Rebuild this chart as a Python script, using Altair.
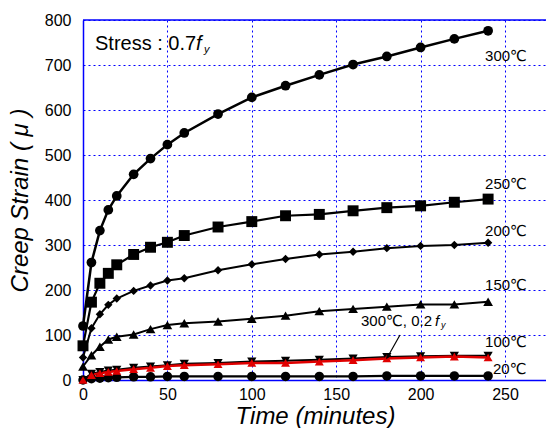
import altair as alt
import pandas as pd

# ---- data ----
times = [0, 5, 10, 15, 20, 30, 40, 50, 60, 80, 100, 120, 140, 160, 180, 200, 220, 240]

strain_300 = [120, 261, 332, 378, 409, 457, 492, 523, 549, 591, 628, 654, 678, 701, 719, 739, 758, 776]
strain_250 = [76, 173, 215, 237, 256, 279, 295, 306, 321, 340, 352, 365, 368, 376, 383, 387, 395, 402]
strain_200 = [50, 115, 146, 167, 181, 198, 210, 221, 226, 244, 257, 269, 279, 285, 293, 298, 300, 305]
strain_150 = [30, 55, 74, 90, 96, 101, 113, 122, 126, 130, 136, 143, 153, 158, 163, 168, 168, 174]
strain_20 = [0, 3, 4, 5, 6, 7, 7, 8, 8, 8, 8, 8, 8, 8, 9, 9, 9, 9]
strain_100 = [0, 14, 18, 21, 23, 27, 30, 33, 36, 38, 41, 43, 45, 48, 51, 53, 54, 54]
strain_300_02 = [0, 11, 15, 18, 20, 24, 27, 31, 33, 35, 38, 38, 41, 44, 48, 50, 52, 50]

series_names = ["300℃", "250℃", "200℃", "150℃", "20℃", "100℃", "300℃, 0.2fy"]
series_values = [strain_300, strain_250, strain_200, strain_150, strain_20, strain_100, strain_300_02]
series_colors = ["#000000", "#000000", "#000000", "#000000", "#000000", "#000000", "#E00000"]
series_shapes = ["circle", "square", "diamond", "triangle-up", "circle", "triangle-down", "triangle-up"]
series_sizes = [95, 120, 70, 95, 90, 85, 80]
series_widths = [2.5, 2.2, 2.0, 2.0, 2.2, 2.0, 2.5]

# curve labels (text, time, strain)
label_texts = ["300℃", "250℃", "200℃", "150℃", "100℃", "20℃"]
label_x = [238.2, 238.2, 238.2, 238.2, 238.2, 242.9]
label_y = [720, 435, 331, 211, 84, 24]

x_ticks = [0, 50, 100, 150, 200, 250]
y_ticks = [0, 100, 200, 300, 400, 500, 600, 700, 800]

FONT = "Liberation Sans, DejaVu Sans"
BLUE = "#0000FF"

xscale = alt.Scale(domain=[0, 274.3], nice=False, zero=False)
yscale = alt.Scale(domain=[0, 800], nice=False)

xenc_axis = alt.X(
    "time:Q", scale=xscale,
    axis=alt.Axis(
        values=x_ticks, title="Time (minutes)", grid=True, gridColor=BLUE,
        gridDash=[2, 3], gridWidth=1, ticks=False, labelPadding=6, labelFlush=False,
        labelFont=FONT, labelFontSize=16, labelColor="black",
        domainColor=BLUE, domainWidth=1.5,
        titleFont=FONT, titleFontSize=24, titleFontStyle="italic",
        titleFontWeight="normal", titleColor="black",
        titleBaseline="alphabetic", titleY=43, titleX=232, titleAlign="center",
    ),
)
yenc_axis = alt.Y(
    "strain:Q", scale=yscale,
    axis=alt.Axis(
        values=y_ticks, title="Creep Strain ( μ )", grid=True, gridColor=BLUE,
        gridDash=[2, 3], gridWidth=1, ticks=False, labelPadding=12, labelFlush=False,
        labelFont=FONT, labelFontSize=16, labelColor="black",
        domainColor=BLUE, domainWidth=1.5,
        titleFont=FONT, titleFontSize=24, titleFontStyle="italic",
        titleFontWeight="normal", titleColor="black",
        titleBaseline="alphabetic", titleX=-56, titleY=180, titleAlign="center",
        titleAngle=270,
    ),
)

rows = []
for name, vals in zip(series_names, series_values):
    for t, v in zip(times, vals):
        rows.append({"series": name, "time": t, "strain": v})
df = pd.DataFrame(rows)

layers = []
# axes + grid carrier (invisible)
layers.append(
    alt.Chart(df).mark_point(opacity=0).encode(x=xenc_axis, y=yenc_axis)
)
# top frame line
layers.append(
    alt.Chart(pd.DataFrame({"strain": [800]})).mark_rule(color=BLUE, strokeWidth=1.5)
    .encode(y=alt.Y("strain:Q", scale=yscale))
)

x_plain = alt.X("time:Q", scale=xscale)
y_plain = alt.Y("strain:Q", scale=yscale)

for name, col, w in zip(series_names, series_colors, series_widths):
    sub = df[df.series == name]
    layers.append(
        alt.Chart(sub).mark_line(color=col, strokeWidth=w).encode(
            x=x_plain, y=y_plain, order=alt.Order("time:Q")
        )
    )
for name, col, shp, sz in zip(series_names, series_colors, series_shapes, series_sizes):
    sub = df[df.series == name]
    layers.append(
        alt.Chart(sub).mark_point(filled=True, opacity=1, color=col, shape=shp, size=sz)
        .encode(x=x_plain, y=y_plain)
    )

# curve labels
lab_df = pd.DataFrame({"label": label_texts, "time": label_x, "strain": label_y})
layers.append(
    alt.Chart(lab_df).mark_text(align="left", baseline="middle", font=FONT,
                                fontSize=15, color="black")
    .encode(x=x_plain, y=y_plain, text="label:N")
)

# stress annotation
stress_df = pd.DataFrame({"time": [7.1], "strain": [733]})
layers.append(
    alt.Chart(stress_df).mark_text(align="left", baseline="alphabetic", font=FONT,
                                   fontSize=20, color="black", text="Stress : 0.7")
    .encode(x=x_plain, y=y_plain)
)
layers.append(
    alt.Chart(stress_df).mark_text(align="left", baseline="alphabetic", font=FONT,
                                   fontSize=20, fontStyle="italic", color="black",
                                   text="f", dx=101)
    .encode(x=x_plain, y=y_plain)
)
layers.append(
    alt.Chart(stress_df).mark_text(align="left", baseline="alphabetic", font=FONT,
                                   fontSize=11, fontStyle="italic", color="black",
                                   text="y", dx=109, dy=3)
    .encode(x=x_plain, y=y_plain)
)

# 0.2fy annotation with arrow
ann_df = pd.DataFrame({"time": [206.8], "strain": [121]})
layers.append(
    alt.Chart(ann_df).mark_text(align="right", baseline="alphabetic", font=FONT,
                                fontSize=15, color="black", text="300℃, 0.2")
    .encode(x=x_plain, y=y_plain)
)
layers.append(
    alt.Chart(ann_df).mark_text(align="left", baseline="alphabetic", font=FONT,
                                fontSize=15, fontStyle="italic", color="black",
                                text="f", dx=3)
    .encode(x=x_plain, y=y_plain)
)
layers.append(
    alt.Chart(ann_df).mark_text(align="left", baseline="alphabetic", font=FONT,
                                fontSize=9, fontStyle="italic", color="black",
                                text="y", dx=9, dy=2)
    .encode(x=x_plain, y=y_plain)
)
arrow_df = pd.DataFrame({"time": [187.8], "strain": [100], "time2": [180.1], "strain2": [48.9]})
layers.append(
    alt.Chart(arrow_df).mark_rule(color="black", strokeWidth=1.2)
    .encode(x=x_plain, y=y_plain, x2="time2:Q", y2="strain2:Q")
)
head_df = pd.DataFrame({"time": [180.1], "strain": [48.9]})
layers.append(
    alt.Chart(head_df).mark_point(shape="M -0.45 1 L 0 0 L 0.45 1", filled=False,
                                  color="black", strokeWidth=1.3, size=70,
                                  angle=209.5, opacity=1)
    .encode(x=x_plain, y=y_plain)
)

chart = alt.layer(*layers).properties(
    width=463, height=360,
    autosize=alt.AutoSizeParams(type="none"),
    padding={"left": 83, "top": 20, "right": 0, "bottom": 48},
    background="white",
).configure_view(strokeWidth=0)

chart.save("out.html", embed_options={"renderer": "svg", "actions": False})
